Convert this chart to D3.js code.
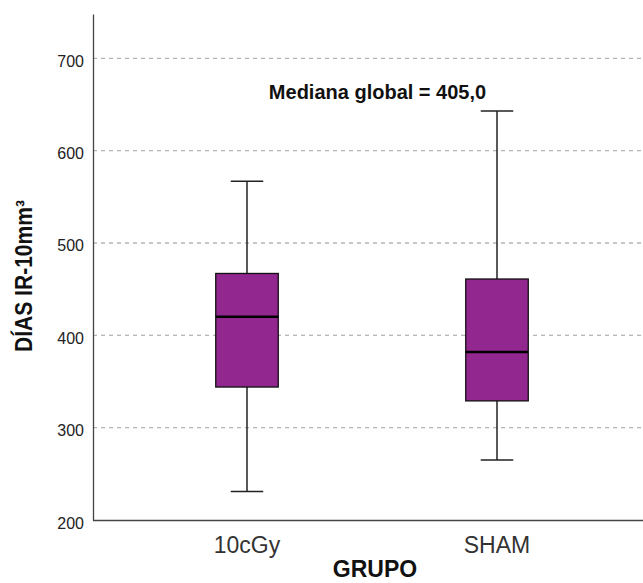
<!DOCTYPE html>
<html lang="es">
  <head>
    <meta charset="UTF-8" />
    <title>DIAS IR-10mm3 por grupo</title>
    <script src="https://d3js.org/d3.v7.min.js"></script>
    <style>
      body { margin: 0; background: #fff; }
      text { font-family: "Liberation Sans", Arial, sans-serif; }
      .grid { stroke: #b5b5b5; stroke-width: 1.3px; stroke-dasharray: 4,4; }
      .axis path { stroke: #444; stroke-width: 1.3px; }
      .box { fill: #92278f; stroke: #111; stroke-width: 1.3px; }
      .whisker { stroke: #222; stroke-width: 1.5px; }
      .median { stroke: #000; stroke-width: 2.5px; }
    </style>
  </head>
  <body>
    <svg id="chart" width="643" height="583"></svg>
    <script>
      const groups = ["10cGy", "SHAM"];
      const lowWhisker = [231, 265];
      const q1 = [344, 329];
      const median = [420, 382];
      const q3 = [467, 461];
      const highWhisker = [567, 643];
      const yTicks = [200, 300, 400, 500, 600, 700];
      const globalMedian = "405,0";

      const svg = d3.select("#chart");
      const plotLeft = 93, plotRight = 643, plotBottom = 520, plotTop = 14;

      const y = d3.scaleLinear().domain([200, 748]).range([plotBottom, plotTop]);
      const x = d3.scaleBand().domain(groups).range([122, 622]);
      const boxW = x.step() * 0.25;
      const capW = x.step() * 0.13;

      // gridlines
      svg.append("g")
        .selectAll("line")
        .data(yTicks.filter(d => d > 200))
        .join("line")
        .attr("class", "grid")
        .attr("x1", plotLeft).attr("x2", plotRight)
        .attr("y1", d => y(d)).attr("y2", d => y(d));

      // axes
      const yAxis = svg.append("g")
        .attr("class", "axis")
        .attr("transform", `translate(${plotLeft},0)`)
        .call(d3.axisLeft(y).tickValues(yTicks).tickSize(0).tickPadding(9));
      yAxis.selectAll("text")
        .style("font-size", "16px").attr("fill", "#222")
        .attr("dy", "0.5em");

      const xAxis = svg.append("g")
        .attr("class", "axis")
        .attr("transform", `translate(0,${plotBottom})`)
        .call(d3.axisBottom(x).tickSize(0).tickPadding(14));
      xAxis.select("path").attr("d", `M${plotLeft},0.5H${plotRight}`);
      xAxis.selectAll("text")
        .style("font-size", "23px").attr("fill", "#333")
        .attr("y", 33).attr("dy", 0);

      // boxes
      const data = groups.map((g, i) => ({
        g, lo: lowWhisker[i], q1: q1[i], med: median[i], q3: q3[i], hi: highWhisker[i]
      }));
      const bx = svg.append("g").selectAll("g").data(data).join("g")
        .attr("transform", d => `translate(${x(d.g) + x.bandwidth() / 2},0)`);

      bx.append("line").attr("class", "whisker")
        .attr("y1", d => y(d.hi)).attr("y2", d => y(d.q3));
      bx.append("line").attr("class", "whisker")
        .attr("y1", d => y(d.q1)).attr("y2", d => y(d.lo));
      bx.append("line").attr("class", "whisker")
        .attr("x1", -capW / 2).attr("x2", capW / 2)
        .attr("y1", d => y(d.hi)).attr("y2", d => y(d.hi));
      bx.append("line").attr("class", "whisker")
        .attr("x1", -capW / 2).attr("x2", capW / 2)
        .attr("y1", d => y(d.lo)).attr("y2", d => y(d.lo));
      bx.append("rect").attr("class", "box")
        .attr("x", -boxW / 2).attr("width", boxW)
        .attr("y", d => y(d.q3)).attr("height", d => y(d.q1) - y(d.q3));
      bx.append("line").attr("class", "median")
        .attr("x1", -boxW / 2).attr("x2", boxW / 2)
        .attr("y1", d => y(d.med)).attr("y2", d => y(d.med));

      // annotation
      svg.append("text")
        .attr("x", 377.5).attr("y", 99)
        .attr("text-anchor", "middle")
        .style("font-size", "20px").style("font-weight", "bold")
        .attr("fill", "#111")
        .text("Mediana global = " + globalMedian);

      // axis titles
      svg.append("text")
        .attr("x", 375).attr("y", 577)
        .attr("text-anchor", "middle")
        .style("font-size", "23px").style("font-weight", "bold")
        .attr("fill", "#111")
        .text("GRUPO");

      svg.append("text")
        .attr("transform", "translate(32,276) rotate(-90)")
        .attr("text-anchor", "middle")
        .attr("textLength", 152).attr("lengthAdjust", "spacingAndGlyphs")
        .style("font-size", "23px").style("font-weight", "bold")
        .attr("fill", "#111")
        .text("DÍAS IR-10mm³");
    </script>
  </body>
</html>
